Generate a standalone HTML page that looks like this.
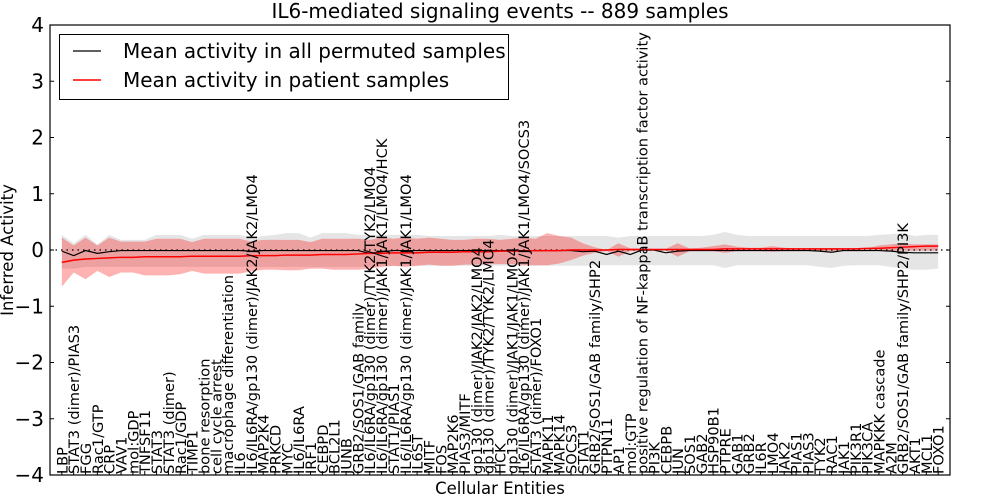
<!DOCTYPE html>
<html><head><meta charset="utf-8"><style>
body{margin:0;background:#fff;width:1000px;height:500px;overflow:hidden}
svg{display:block;font-family:"DejaVu Sans","Liberation Sans",sans-serif}
</style></head><body>
<svg id="chart" width="1000" height="500">
<text x="500" y="18" text-anchor="middle" font-size="20">IL6-mediated signaling events -- 889 samples</text>
<g id="plot"></g>
<text x="500" y="494" text-anchor="middle" font-size="16.5">Cellular Entities</text>
<text transform="translate(13,250) rotate(-90)" text-anchor="middle" font-size="16.5">Inferred Activity</text>
</svg>
<script>
const categories = ["LBP","STAT3 (dimer)/PIAS3","FGG","Rac1/GTP","CRP","VAV1","mol:GDP","TNFSF11","STAT3","STAT3 (dimer)","Rac1/GDP","TIMP1","bone resorption","cell cycle arrest","macrophage differentiation","IL6","IL6/IL6RA/gp130 (dimer)/JAK2/JAK2/LMO4","MAP2K4","PRKCD","MYC","IL6/IL6RA","IRF1","CEBPD","BCL2L1","JUNB","GRB2/SOS1/GAB family","IL6/IL6RA/gp130 (dimer)/TYK2/TYK2/LMO4","IL6/IL6RA/gp130 (dimer)/JAK1/JAK1/LMO4/HCK","STAT1/PIAS1","IL6/IL6RA/gp130 (dimer)/JAK1/JAK1/LMO4","IL6ST","MITF","FOS","MAP2K6","PIAS3/MITF","gp130 (dimer)/JAK2/JAK2/LMO4","gp130 (dimer)/TYK2/TYK2/LMO4","HCK","gp130 (dimer)/JAK1/JAK1/LMO4","IL6/IL6RA/gp130 (dimer)/JAK1/JAK1/LMO4/SOCS3","STAT3 (dimer)/FOXO1","MAPK11","MAPK14","SOCS3","STAT1","GRB2/SOS1/GAB family/SHP2","PTPN11","AP1","mol:GTP","positive regulation of NF-kappaB transcription factor activity","PI3K","CEBPB","JUN","SOS1","GAB2","HSP90B1","PTPRE","GAB1","GRB2","IL6R","LMO4","JAK2","PIAS1","PIAS3","TYK2","RAC1","JAK1","PIK3R1","PIK3CA","MAPKKK cascade","A2M","GRB2/SOS1/GAB family/SHP2/PI3K","AKT1","MCL1","FOXO1"];
const permMean = [-0.02,-0.1,-0.01,-0.06,-0.03,-0.01,-0.01,-0.01,-0.01,-0.01,-0.01,-0.01,-0.01,-0.01,-0.01,-0.01,-0.02,-0.01,-0.01,-0.01,-0.01,-0.01,-0.01,-0.01,-0.01,-0.01,-0.06,-0.03,-0.01,-0.01,-0.01,-0.01,-0.01,-0.01,-0.01,-0.01,-0.01,-0.01,-0.01,-0.01,-0.01,-0.01,-0.01,-0.01,-0.03,-0.02,-0.08,-0.02,-0.08,0,0,-0.05,-0.02,-0.01,-0.01,-0.01,-0.01,-0.01,-0.01,-0.01,-0.01,-0.01,-0.01,-0.01,-0.02,-0.04,-0.01,-0.01,-0.01,-0.01,-0.02,-0.04,-0.05,-0.05,-0.05];
const permUpper = [0.27,0.12,0.27,0.1,0.27,0.18,0.18,0.18,0.27,0.27,0.27,0.2,0.27,0.27,0.27,0.27,0.22,0.25,0.27,0.3,0.3,0.22,0.3,0.3,0.3,0.27,0.27,0.27,0.27,0.27,0.27,0.25,0.25,0.25,0.25,0.25,0.25,0.27,0.25,0.25,0.25,0.25,0.25,0.25,0.25,0.25,0.25,0.22,0.25,0.25,0.25,0.25,0.25,0.25,0.25,0.27,0.32,0.27,0.25,0.25,0.25,0.25,0.25,0.25,0.25,0.25,0.25,0.25,0.25,0.27,0.28,0.3,0.25,0.27,0.27];
const permLower = [-0.33,-0.33,-0.3,-0.3,-0.3,-0.3,-0.3,-0.3,-0.3,-0.3,-0.3,-0.3,-0.3,-0.3,-0.3,-0.3,-0.3,-0.3,-0.3,-0.3,-0.3,-0.3,-0.3,-0.3,-0.3,-0.3,-0.3,-0.28,-0.28,-0.28,-0.28,-0.28,-0.28,-0.28,-0.28,-0.28,-0.28,-0.28,-0.28,-0.28,-0.28,-0.28,-0.28,-0.28,-0.28,-0.27,-0.27,-0.27,-0.27,-0.27,-0.27,-0.27,-0.27,-0.27,-0.27,-0.27,-0.32,-0.27,-0.27,-0.27,-0.27,-0.27,-0.27,-0.27,-0.3,-0.32,-0.28,-0.27,-0.27,-0.27,-0.3,-0.33,-0.35,-0.35,-0.33];
const patMean = [-0.22,-0.18,-0.16,-0.15,-0.14,-0.13,-0.13,-0.12,-0.12,-0.12,-0.12,-0.11,-0.11,-0.11,-0.11,-0.11,-0.1,-0.1,-0.1,-0.09,-0.09,-0.09,-0.08,-0.08,-0.08,-0.07,-0.06,-0.06,-0.05,-0.05,-0.05,-0.04,-0.04,-0.04,-0.03,-0.03,-0.03,-0.02,-0.02,-0.02,-0.01,-0.01,-0.01,0,0,0,0,0.01,0.01,0.01,0.01,0.01,0.01,0.01,0.01,0.01,0.02,0.02,0.02,0.02,0.02,0.02,0.02,0.02,0.02,0.02,0.02,0.02,0.03,0.03,0.04,0.05,0.06,0.07,0.07];
const patUpper = [0.22,0.08,0.22,0.08,0.22,0.15,0.15,0.15,0.2,0.2,0.2,0.14,0.2,0.2,0.2,0.2,0.15,0.18,0.18,0.18,0.18,0.14,0.2,0.2,0.2,0.2,0.18,0.22,0.2,0.22,0.2,0.22,0.2,0.18,0.18,0.2,0.2,0.18,0.2,0.22,0.2,0.3,0.25,0.22,0.12,0.05,0.0,0.12,0.03,0.03,0.02,0.02,0.12,0.03,0.04,0.07,0.1,0.06,0.04,0.04,0.07,0.04,0.03,0.03,0.03,0.03,0.03,0.03,0.03,0.08,0.1,0.12,0.1,0.1,0.1];
const patLower = [-0.65,-0.4,-0.52,-0.37,-0.48,-0.4,-0.4,-0.45,-0.45,-0.45,-0.43,-0.37,-0.42,-0.42,-0.42,-0.42,-0.38,-0.35,-0.35,-0.36,-0.36,-0.33,-0.33,-0.35,-0.35,-0.35,-0.33,-0.3,-0.28,-0.3,-0.28,-0.26,-0.28,-0.28,-0.26,-0.26,-0.25,-0.25,-0.25,-0.27,-0.27,-0.27,-0.24,-0.18,-0.1,-0.05,-0.02,-0.12,-0.02,-0.02,-0.01,-0.01,-0.12,-0.02,-0.02,-0.02,-0.05,-0.02,-0.02,-0.02,-0.03,-0.02,-0.02,-0.02,-0.02,-0.02,-0.02,-0.02,-0.02,-0.01,-0.01,-0.01,-0.01,-0.01,-0.01];
const yTicks = [-4,-3,-2,-1,0,1,2,3,4];

const L=50,R=950,T=25,B=475,yMin=-4,yMax=4,xMin=-1,xMax=75;
const sx=i=>L+(i-xMin)/(xMax-xMin)*(R-L);
const sy=v=>B-(v-yMin)/(yMax-yMin)*(B-T);
const NS="http://www.w3.org/2000/svg";
const g=document.getElementById('plot');
function mk(tag,attrs,parent){const e=document.createElementNS(NS,tag);for(const k in attrs)e.setAttribute(k,attrs[k]);(parent||g).appendChild(e);return e;}
function band(up,lo,fill,name){
  let d='M'+up.map((v,i)=>sx(i)+','+sy(v)).join(' L');
  for(let i=lo.length-1;i>=0;i--)d+=' L'+sx(i)+','+sy(lo[i]);
  const p=mk('path',{d:d+'Z',fill:fill,stroke:'none'});
  
  
}
function line(vals,stroke,w,name){
  const p=mk('polyline',{points:vals.map((v,i)=>sx(i)+','+sy(v)).join(' '),fill:'none',stroke:stroke,'stroke-width':w});
  
  
}
band(permUpper,permLower,'rgba(150,150,150,0.25)','permuted-band');
band(patUpper,patLower,'rgba(255,0,0,0.3)','patient-band');
const zl=mk('line',{x1:L,x2:R,y1:sy(0),y2:sy(0),stroke:'#000','stroke-dasharray':'1.5,4','stroke-width':1.2});


line(permMean,'#000',1.2,'permuted-mean-line');
line(patMean,'#f00',1.5,'patient-mean-line');
const fr=mk('rect',{x:L,y:T,width:R-L,height:B-T,fill:'none',stroke:'#000','stroke-width':1.2});


yTicks.forEach(v=>{
  const y=sy(v);
  mk('line',{x1:L,x2:L+4,y1:y,y2:y,stroke:'#000'});
  mk('line',{x1:R-4,x2:R,y1:y,y2:y,stroke:'#000'});
  const t=mk('text',{x:L-6,y:y+7,'text-anchor':'end','font-size':20});
  t.textContent=(v<0?'\u2212':'')+Math.abs(v);
  
  
});
categories.forEach((c,i)=>{
  const x=sx(i);
  mk('line',{x1:x,x2:x,y1:B,y2:B-4,stroke:'#000'});
  const t=mk('text',{transform:'translate('+(x+5.5)+','+(B-1)+') rotate(-90)','font-size':14.6});
  t.textContent=c;
  
  
});
const lg=mk('g',{});


mk('rect',{x:59.5,y:34.5,width:449,height:65,fill:'#fff',stroke:'#000','stroke-width':1},lg);
mk('line',{x1:73,x2:101,y1:51,y2:51,stroke:'#000','stroke-width':1.2},lg);
mk('line',{x1:73,x2:101,y1:80,y2:80,stroke:'#f00','stroke-width':1.5},lg);
const t1=mk('text',{x:123,y:58,'font-size':20},lg);t1.textContent='Mean activity in all permuted samples';


const t2=mk('text',{x:123,y:87,'font-size':20},lg);t2.textContent='Mean activity in patient samples';


</script>
</body></html>
